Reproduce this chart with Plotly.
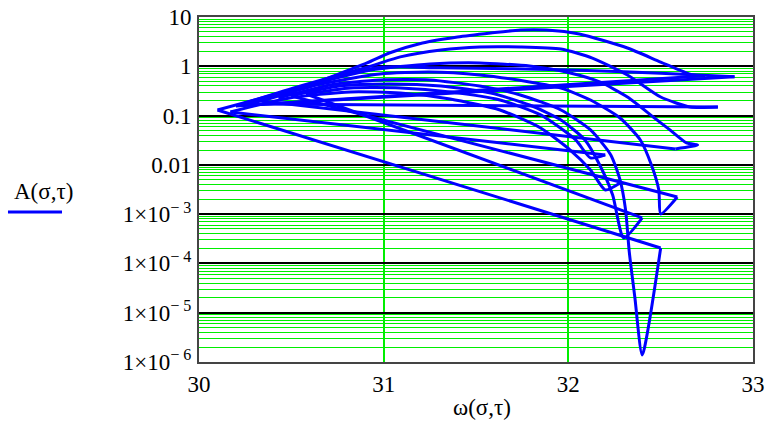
import plotly.graph_objects as go

# ---- data (omega, A) for each sigma-curve ----
# curve with deep spike
w5 = [30.43, 30.71, 30.98, 31.25, 31.52, 31.74, 31.96, 32.12, 32.23, 32.28, 32.31, 32.33, 32.36, 32.40, 32.50]
a5 = [0.228, 0.418, 0.527, 0.527, 0.398, 0.262, 0.130, 0.0511, 0.0159, 4.94e-3, 1.22e-3, 1.71e-4, 2.09e-5, 1.39e-6, 2.06e-4]
# flat curve near A = 0.7
w0 = [30.10, 30.60, 30.97, 31.30, 31.70, 32.10, 32.50, 32.90]
a0 = [0.130, 0.420, 0.950, 0.930, 0.890, 0.820, 0.720, 0.610]
# top arc
w1 = [30.22, 30.55, 30.91, 31.03, 31.21, 31.40, 31.58, 31.74, 31.88, 32.06, 32.32, 32.50, 32.67, 32.74]
a1 = [0.160, 0.363, 1.17, 1.86, 2.97, 3.93, 4.73, 5.45, 5.45, 4.52, 2.35, 1.22, 0.667, 0.640]
# second arc
w2 = [30.20, 30.55, 30.93, 31.09, 31.31, 31.52, 31.74, 31.96, 32.13, 32.32, 32.50, 32.66, 32.81]
a2 = [0.157, 0.398, 1.01, 1.55, 2.14, 2.46, 2.46, 2.24, 1.47, 0.667, 0.238, 0.149, 0.149]
# third arc
w3 = [30.28, 30.60, 30.93, 31.25, 31.52, 31.79, 32.01, 32.17, 32.32, 32.46, 32.55, 32.64, 32.70, 32.58]
a3 = [0.172, 0.418, 0.841, 1.11, 1.17, 1.01, 0.731, 0.481, 0.238, 0.0937, 0.0511, 0.0278, 0.0253, 0.0210]
# fourth arc
w4 = [30.34, 30.66, 30.98, 31.25, 31.52, 31.79, 31.96, 32.12, 32.28, 32.39, 32.45, 32.49, 32.50, 32.59]
a4 = [0.198, 0.438, 0.698, 0.766, 0.667, 0.481, 0.363, 0.207, 0.0893, 0.0320, 9.95e-3, 3.10e-3, 1.01e-3, 2.23e-3]
# sixth arc
w6 = [30.50, 30.76, 31.03, 31.31, 31.58, 31.79, 31.96, 32.09, 32.17, 32.24, 32.30, 32.40]
a6 = [0.250, 0.398, 0.438, 0.398, 0.287, 0.164, 0.0815, 0.0320, 9.95e-3, 2.45e-3, 3.29e-4, 8.38e-4]
# seventh arc
w7 = [30.58, 30.82, 31.09, 31.36, 31.63, 31.85, 32.04, 32.12, 32.20]
a7 = [0.274, 0.363, 0.363, 0.301, 0.207, 0.103, 0.0320, 0.0138, 0.0159]
# eighth arc
w8 = [30.17, 30.49, 30.82, 31.09, 31.36, 31.63, 31.85, 32.01, 32.12, 32.20, 32.28]
a8 = [0.118, 0.228, 0.301, 0.287, 0.217, 0.130, 0.0560, 0.0200, 7.89e-3, 3.10e-3, 4.30e-3]

x_ticks = [30, 31, 32, 33]
y_ticks = [1e-6, 1e-5, 1e-4, 1e-3, 0.01, 0.1, 1, 10]
y_ticktext = ["1×10<sup>− 6</sup>", "1×10<sup>− 5</sup>", "1×10<sup>− 4</sup>",
              "1×10<sup>− 3</sup>", "0.01", "0.1", "1", "10"]

curves = [(w5, a5), (w0, a0), (w1, a1), (w2, a2), (w3, a3),
          (w4, a4), (w6, a6), (w7, a7), (w8, a8)]

minor_vals = [k * 10.0 ** d for d in range(-6, 1) for k in range(2, 10)]

FONT = "Liberation Serif"
GREEN = "#00ee00"
BLUE = "#0000ff"

fig = go.Figure()
for i, (w, a) in enumerate(curves):
    fig.add_trace(go.Scatter(x=w, y=a, mode="lines",
                             line=dict(color=BLUE, width=3, shape="spline", smoothing=0.6),
                             hoverinfo="skip"))
    if i + 1 < len(curves):
        wn, an = curves[i + 1]
        fig.add_trace(go.Scatter(x=[w[-1], wn[0]], y=[a[-1], an[0]], mode="lines",
                                 line=dict(color=BLUE, width=3), hoverinfo="skip"))

fig.update_layout(
    width=771, height=439,
    margin=dict(l=199, r=18, t=17, b=77, autoexpand=False),
    paper_bgcolor="white", plot_bgcolor="white",
    showlegend=False,
    font=dict(family=FONT, size=23, color="black"),
)
fig.update_xaxes(
    range=[30, 33], tickvals=x_ticks, ticktext=[str(v) for v in x_ticks],
    showgrid=True, gridcolor=GREEN, gridwidth=2, zeroline=False,
    showline=True, mirror=True, linecolor="#444444", linewidth=2,
    ticks="", ticklabelstandoff=0, automargin=False,
    tickfont=dict(family=FONT, size=23, color="black"),
)
fig.update_yaxes(
    type="log", range=[-6, 1], tickvals=y_ticks, ticktext=y_ticktext,
    showgrid=True, gridcolor="black", gridwidth=2, zeroline=False,
    minor=dict(tickvals=minor_vals, showgrid=True, gridcolor=GREEN, gridwidth=1, ticks=""),
    showline=True, mirror=True, linecolor="#444444", linewidth=2,
    ticks="", ticklabelstandoff=1, automargin=False,
    tickfont=dict(family=FONT, size=23, color="black"),
)

fig.add_annotation(text="ω(σ,τ)", xref="paper", yref="paper",
                   x=0.511, y=-0.1333, xanchor="center", yanchor="middle",
                   showarrow=False, font=dict(family=FONT, size=23, color="black"))
fig.add_annotation(text="A(σ,τ)", xref="paper", yref="paper",
                   x=-0.3375, y=0.4928, xanchor="left", yanchor="middle",
                   showarrow=False, font=dict(family=FONT, size=23, color="black"))
fig.add_shape(type="line", xref="paper", yref="paper",
              x0=-0.3448, x1=-0.2473, y0=0.4348, y1=0.4348,
              line=dict(color=BLUE, width=3))

# remove the browser's default body margin so the figure sits at the page origin
fig.write_html("out.html", config={"displayModeBar": False},
               post_script="document.body.style.margin='0px';")
